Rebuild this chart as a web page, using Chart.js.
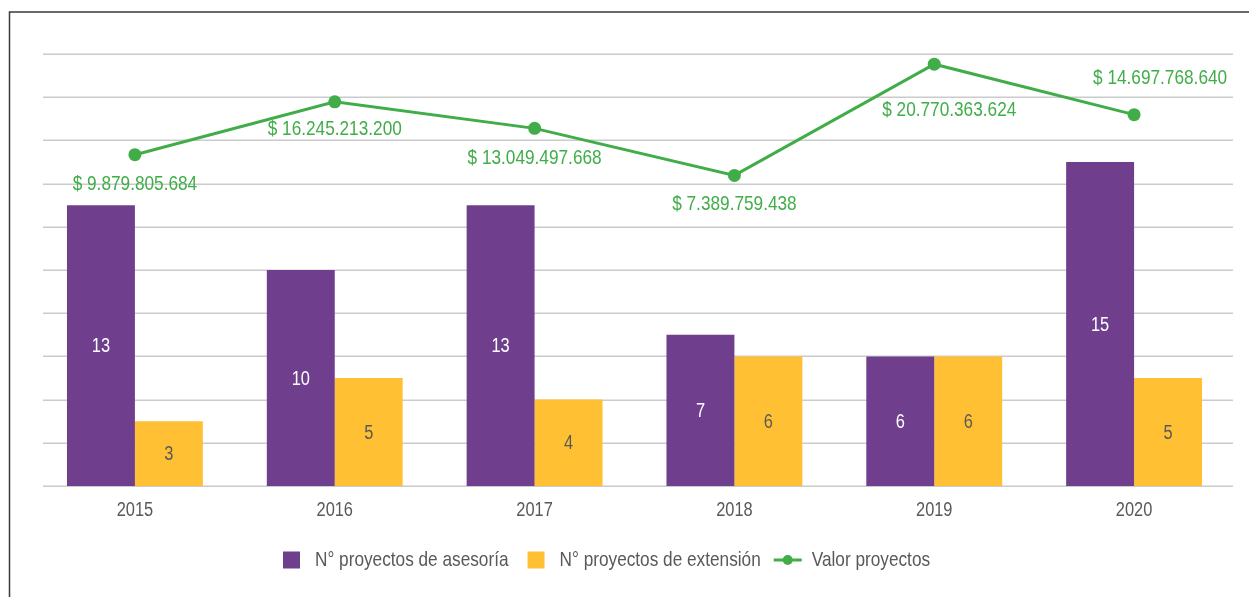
<!DOCTYPE html>
<html>
<head>
<meta charset="utf-8">
<script src="https://cdn.jsdelivr.net/npm/chart.js@4"></script>
<style>
  html, body { margin: 0; padding: 0; background: #fff; }
  #wrap { width: 1249px; height: 597px; position: relative; }
</style>
</head>
<body>
<div id="wrap"><canvas id="chart"></canvas></div>
<script>
// --- data ---
const years = ["2015", "2016", "2017", "2018", "2019", "2020"];
const asesoria = [13, 10, 13, 7, 6, 15];
const extension = [3, 5, 4, 6, 6, 5];
const valorProyectos = [9879805684, 16245213200, 13049497668, 7389759438, 20770363624, 14697768640];

const seriesNames = ["N° proyectos de asesoría", "N° proyectos de extensión", "Valor proyectos"];

// colors
const purple = "#6f3f8e";
const yellow = "#ffc133";
const green = "#40ad48";
const textGrey = "#595959";
const gridGrey = "#cbcbcb";
const FONT = "'Liberation Sans', Arial, sans-serif";
const NARROW = 0.82; // no narrow font installed, squeeze text horizontally

// label placement for the line values (dx, dy from point)
const lineLabelOffset = [[0, 30], [0, 27], [0, 30], [0, 29], [15, 46], [26, -36]];

function fmtPesos(v) {
  return "$ " + String(v).replace(/\B(?=(\d{3})+(?!\d))/g, ".");
}

// draw text squeezed like Arial Narrow; align: "center" | "left"
function narrowText(ctx, txt, x, y, align) {
  ctx.save();
  ctx.translate(x, y);
  ctx.scale(NARROW, 1);
  ctx.textAlign = align;
  ctx.fillText(txt, 0, 0);
  ctx.restore();
}
function narrowWidth(ctx, txt) {
  return ctx.measureText(txt).width * NARROW;
}

const decorPlugin = {
  id: "decor",
  beforeDatasetsDraw(chart) {
    // horizontal gridlines, Excel style (a bit inset from category area)
    const ctx = chart.ctx;
    const y = chart.scales.y;
    ctx.save();
    ctx.strokeStyle = gridGrey;
    ctx.lineWidth = 1.5;
    for (let v = 0; v <= 20; v += 2) {
      const py = Math.round(y.getPixelForValue(v)) + 0.25;
      ctx.beginPath();
      ctx.moveTo(43, py);
      ctx.lineTo(1233, py);
      ctx.stroke();
    }
    ctx.restore();
  },
  afterDatasetsDraw(chart) {
    const ctx = chart.ctx;
    ctx.save();
    ctx.textBaseline = "middle";
    ctx.font = "20px " + FONT;

    // bar labels, centered in bar
    [1, 2].forEach((di) => {
      const meta = chart.getDatasetMeta(di);
      meta.data.forEach((bar, i) => {
        const val = chart.data.datasets[di].data[i];
        ctx.fillStyle = di === 1 ? "#ffffff" : textGrey;
        narrowText(ctx, String(val), bar.x, (bar.y + bar.base) / 2 + 1, "center");
      });
    });

    // line value labels
    const lmeta = chart.getDatasetMeta(0);
    ctx.font = "21px " + FONT;
    ctx.fillStyle = green;
    lmeta.data.forEach((pt, i) => {
      const off = lineLabelOffset[i];
      narrowText(ctx, fmtPesos(valorProyectos[i]), pt.x + off[0], pt.y + off[1], "center");
    });

    // x tick labels
    const xs = chart.scales.x;
    ctx.font = "20px " + FONT;
    ctx.fillStyle = textGrey;
    years.forEach((yr, i) => {
      narrowText(ctx, yr, xs.getPixelForValue(i), 510, "center");
    });
    ctx.restore();
  },
  afterDraw(chart) {
    const ctx = chart.ctx;
    ctx.save();
    // outer frame (top + left visible)
    ctx.strokeStyle = "#3a3a3a";
    ctx.lineWidth = 1.5;
    ctx.beginPath();
    ctx.moveTo(9.5, 600);
    ctx.lineTo(9.5, 12);
    ctx.lineTo(1260, 12);
    ctx.stroke();

    // legend
    ctx.font = "21px " + FONT;
    ctx.textBaseline = "middle";
    const ly = 560;
    let x = 283;
    ctx.fillStyle = purple;
    ctx.fillRect(x, ly - 8.5, 17, 17);
    x += 32;
    ctx.fillStyle = textGrey;
    narrowText(ctx, seriesNames[0], x, ly, "left");
    x += narrowWidth(ctx, seriesNames[0]) + 19;
    ctx.fillStyle = yellow;
    ctx.fillRect(x, ly - 8.5, 17, 17);
    x += 32;
    ctx.fillStyle = textGrey;
    narrowText(ctx, seriesNames[1], x, ly, "left");
    x += narrowWidth(ctx, seriesNames[1]) + 13;
    ctx.strokeStyle = green;
    ctx.lineWidth = 3;
    ctx.beginPath();
    ctx.moveTo(x, ly);
    ctx.lineTo(x + 28, ly);
    ctx.stroke();
    ctx.fillStyle = green;
    ctx.beginPath();
    ctx.arc(x + 14, ly, 5, 0, Math.PI * 2);
    ctx.fill();
    x += 38;
    ctx.fillStyle = textGrey;
    narrowText(ctx, seriesNames[2], x, ly, "left");
    ctx.restore();
  }
};

const ctx = document.getElementById("chart").getContext("2d");
new Chart(ctx, {
  data: {
    labels: years,
    datasets: [
      {
        type: "line",
        label: seriesNames[2],
        data: valorProyectos,
        yAxisID: "y2",
        borderColor: green,
        backgroundColor: green,
        borderWidth: 3,
        pointRadius: 6.5,
        pointBackgroundColor: green,
        pointBorderWidth: 0,
        tension: 0,
        order: 0
      },
      {
        type: "bar",
        label: seriesNames[0],
        data: asesoria,
        yAxisID: "y",
        backgroundColor: purple,
        categoryPercentage: 0.68,
        barPercentage: 1,
        order: 1
      },
      {
        type: "bar",
        label: seriesNames[1],
        data: extension,
        yAxisID: "y",
        backgroundColor: yellow,
        categoryPercentage: 0.68,
        barPercentage: 1,
        order: 1
      }
    ]
  },
  options: {
    responsive: true,
    maintainAspectRatio: false,
    animation: false,
    layout: { padding: { left: 35, right: 15, top: 54, bottom: 71 } },
    plugins: {
      legend: { display: false },
      tooltip: { enabled: false }
    },
    scales: {
      x: {
        grid: { display: false, drawTicks: false },
        border: { display: false },
        ticks: { display: false },
        afterFit(scale) { scale.height = 40; }
      },
      y: {
        min: 0,
        max: 20,
        ticks: { stepSize: 2, display: false },
        grid: { display: false },
        border: { display: false },
        afterFit(scale) { scale.width = 0; }
      },
      y2: {
        position: "right",
        min: -30e9,
        max: 22e9,
        display: false
      }
    }
  },
  plugins: [decorPlugin]
});
</script>
</body>
</html>
